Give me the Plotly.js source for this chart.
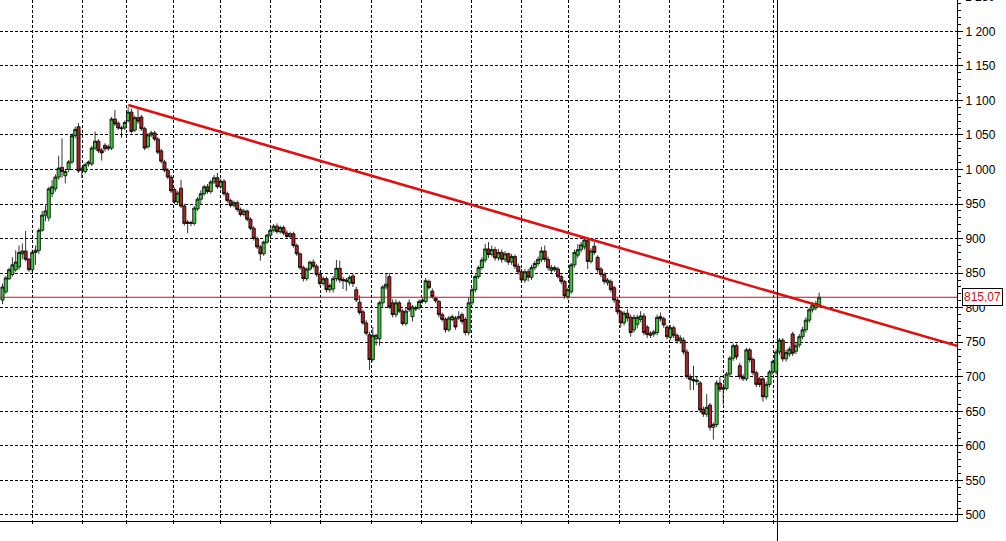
<!DOCTYPE html>
<html>
<head>
<meta charset="utf-8">
<script src="https://cdn.plot.ly/plotly-3.0.1.min.js"></script>
<style>html,body{margin:0;padding:0;background:#fff;}#chart{width:1006px;height:541px;}</style>
</head>
<body>
<div id="chart"></div>
<script>
// ---- data ----
var openP = [
811,823,842,848,855,859,878,882,870,855,
880,883,912,934,930,965,972,989,1003,991,
1000,1011,1049,1062,999,997,1008,1008,1031,1041,
1028,1035,1030,1031,1073,1067,1059,1060,1071,1083,
1057,1075,1076,1059,1033,1050,1053,1044,1027,1011,
999,989,971,953,973,947,924,922,922,943,
957,965,975,968,982,988,975,983,965,955,
948,952,942,935,940,928,915,900,888,878,
895,905,912,918,910,916,908,903,907,890,
878,858,842,856,866,860,848,835,842,826,
827,842,857,841,838,836,846,826,808,794,
778,761,725,755,755,807,830,845,807,790,
807,795,777,807,787,798,800,809,809,838,
824,814,809,790,783,768,783,785,785,790,
783,764,807,826,845,858,869,885,877,884,
872,880,870,878,866,874,860,852,840,852,
844,858,864,870,882,870,854,855,856,845,
838,816,823,862,876,884,888,897,867,889,
873,856,848,836,838,829,811,794,778,792,
786,768,776,783,788,772,760,762,764,787,
784,772,757,771,760,752,753,736,700,694,
693,691,653,646,659,627,631,691,682,683,
704,727,745,716,700,697,739,725,706,697,
697,671,689,707,707,736,753,726,733,762,
737,746,758,768,782,797,800,804];
var highP = [
835,846,858,873,883,890,893,911,872,884,
890,915,940,948,975,985,993,1020,1045,1000,
1014,1052,1062,1067,1004,1010,1013,1034,1055,1044,
1031,1038,1036,1076,1086,1070,1063,1071,1090,1088,
1078,1087,1079,1062,1053,1056,1056,1047,1030,1014,
1002,992,974,969,985,950,927,926,947,960,
970,978,979,985,992,995,986,986,968,958,
955,955,945,943,942,931,918,903,891,897,
907,915,921,922,919,919,912,910,910,893,
880,861,858,868,870,863,851,845,845,835,
846,869,868,845,843,847,849,830,818,797,
782,765,772,762,810,833,850,850,812,812,
810,798,800,812,804,803,812,814,843,841,
828,816,811,793,786,788,790,788,795,793,
786,815,829,848,861,873,892,895,890,888,
885,884,882,880,878,877,864,856,856,856,
862,868,874,888,890,874,862,861,859,848,
840,829,865,884,892,895,903,901,886,895,
876,859,851,843,841,832,814,797,795,798,
790,790,790,795,792,775,766,768,790,793,
787,775,775,774,763,760,757,740,704,716,
700,694,657,675,662,634,695,700,690,707,
730,748,748,720,704,742,742,728,709,700,
700,693,710,725,740,756,756,739,744,765,
750,762,772,786,800,808,810,822];
var lowP = [
805,820,840,845,852,855,870,867,852,852,
862,878,910,925,925,960,968,985,988,980,
996,1008,1045,995,988,994,1004,1005,1028,1024,
1013,1026,1027,1028,1063,1057,1046,1057,1068,1052,
1054,1066,1056,1028,1030,1047,1041,1022,1009,996,
986,966,950,950,944,919,908,918,919,940,
950,962,965,965,979,972,972,962,952,945,
945,939,932,932,925,912,897,885,868,875,
892,902,909,907,907,905,900,900,887,875,
855,838,839,853,857,845,832,832,822,822,
822,838,836,827,824,832,830,808,790,775,
760,710,722,745,745,800,826,798,786,786,
792,774,774,794,780,795,797,806,806,826,
813,807,786,780,764,765,780,768,782,776,
760,760,804,822,842,855,865,872,874,868,
868,865,866,862,862,856,848,836,836,838,
840,854,860,866,866,854,850,852,842,834,
813,812,820,858,872,880,884,856,864,876,
851,844,834,832,822,807,790,771,774,780,
758,764,770,779,760,756,756,758,760,780,
771,754,753,756,748,748,732,697,681,681,
688,648,642,642,622,609,627,678,660,680,
700,723,725,696,694,694,721,702,685,685,
664,667,685,703,703,732,722,722,729,730,
733,742,754,764,778,793,796,800];
var closeP = [
830,843,855,862,866,880,882,870,855,880,
883,912,934,940,972,975,989,1002,997,997,
1011,1049,1058,998,1001,1007,1011,1031,1041,1027,
1024,1030,1033,1073,1066,1060,1060,1068,1083,1055,
1075,1070,1059,1031,1050,1053,1044,1025,1012,999,
989,969,953,966,947,922,922,923,944,957,
965,975,968,982,988,975,983,965,955,948,
952,942,935,940,928,915,900,888,878,895,
905,912,918,910,916,908,903,907,890,878,
858,842,856,866,860,848,835,842,826,832,
842,857,840,839,840,844,835,811,793,778,
763,725,760,760,807,830,834,801,790,807,
795,777,795,797,801,800,809,811,839,829,
816,810,790,783,768,785,787,772,787,780,
764,807,826,845,858,869,885,877,884,872,
880,870,878,866,874,860,852,840,852,844,
858,864,870,882,870,858,858,858,845,838,
817,826,862,880,884,891,898,867,882,880,
855,848,838,840,826,811,794,778,792,785,
764,786,786,788,764,761,763,765,786,784,
775,758,771,760,752,756,736,700,696,696,
695,652,646,656,627,631,691,682,684,704,
727,745,729,700,697,739,725,706,689,689,
671,689,707,722,736,753,726,735,740,734,
745,758,768,782,797,804,806,815.07];
var lastPrice = 815.07;
var lastPriceLabel = "815,07";
var gridIdx = [9.0,24.1,37.6,51.7,65.9,81.0,96.3,111.6,126.8,141.9,156.9,171.1,186.6,201.7,218.0,233.3];
var cursorIdx = [234.4];
var trendX = [38.05, 288.7];
var trendY = [1093.3, 744.8];
var yTickVals = [500,550,600,650,700,750,800,850,900,950,1000,1050,1100,1150,1200,1250];
var yTickText = ["500","550","600","650","700","750","800","850","900","950","1 000","1 050","1 100","1 150","1 200","1 250"];

// ---- chart ----
var idx = closeP.map(function(_, i){ return i; });
var xRange = [-0.756, 288.7];
var yRange = [491.3, 1245.3];

var candles = {
  type: 'candlestick', x: idx, open: openP, high: highP, low: lowP, close: closeP,
  increasing: {line: {color: '#000000', width: 0.8}, fillcolor: '#3cc43c'},
  decreasing: {line: {color: '#000000', width: 0.8}, fillcolor: '#a82424'},
  whiskerwidth: 0, hoverinfo: 'skip', showlegend: false
};
var trend = {
  type: 'scatter', mode: 'lines', x: trendX, y: trendY,
  line: {color: '#e01010', width: 2.6}, hoverinfo: 'skip', showlegend: false, cliponaxis: true
};

var topLabelY = (1250 - yRange[0]) / (yRange[1] - yRange[0]);

var layout = {
  width: 1006, height: 541,
  margin: {l: 0, r: 49, t: 0, b: 20, pad: 0},
  paper_bgcolor: '#ffffff', plot_bgcolor: '#ffffff',
  showlegend: false,
  separators: ', ',
  boxgap: 0.06, boxgroupgap: 0,
  font: {family: 'Liberation Sans, Arial, sans-serif', size: 12, color: '#000'},
  xaxis: {
    type: 'linear', range: xRange, rangeslider: {visible: false},
    tickmode: 'array', tickvals: gridIdx, showticklabels: false,
    ticks: 'outside', ticklen: 2, tickcolor: '#000',
    showgrid: true, gridcolor: '#000000', gridwidth: 1, griddash: '3px,2px',
    showline: true, linecolor: '#000000', linewidth: 1, zeroline: false, fixedrange: true
  },
  yaxis: {
    side: 'right', range: yRange,
    tickmode: 'array', tickvals: yTickVals, ticktext: yTickText,
    ticks: 'outside', ticklen: 5, tickcolor: '#000', tickwidth: 1,
    minor: {dtick: 10, tick0: 500, ticks: 'outside', ticklen: 3, tickcolor: '#000', showgrid: false},
    showgrid: true, gridcolor: '#000000', gridwidth: 1, griddash: '3px,2px',
    showline: true, linecolor: '#000000', linewidth: 1, zeroline: false, fixedrange: true,
    tickfont: {family: 'Liberation Sans, Arial, sans-serif', size: 12, color: '#000'}
  },
  shapes: [
    {type: 'line', xref: 'paper', yref: 'y', x0: 0, x1: 1, y0: lastPrice, y1: lastPrice,
     line: {color: '#cc1111', width: 1}},
    {type: 'line', xref: 'x', yref: 'paper', x0: cursorIdx[0], x1: cursorIdx[0], y0: -0.04, y1: 1,
     line: {color: '#000000', width: 1}}
  ],
  annotations: [
    {xref: 'paper', yref: 'y', x: 1, y: lastPrice, xanchor: 'left', yanchor: 'middle', xshift: 5,
     text: lastPriceLabel, showarrow: false, font: {family: 'Liberation Sans, Arial, sans-serif', size: 12, color: '#cc1111'},
     bgcolor: '#ffffff', bordercolor: '#000000', borderwidth: 1, borderpad: 1},
    {xref: 'paper', yref: 'paper', x: 1, y: topLabelY, xanchor: 'left', yanchor: 'middle', xshift: 6,
     text: yTickText[yTickText.length - 1], showarrow: false,
     font: {family: 'Liberation Sans, Arial, sans-serif', size: 12, color: '#000'}}
  ]
};

Plotly.newPlot('chart', [candles, trend], layout, {displayModeBar: false, staticPlot: true});
</script>
</body>
</html>
